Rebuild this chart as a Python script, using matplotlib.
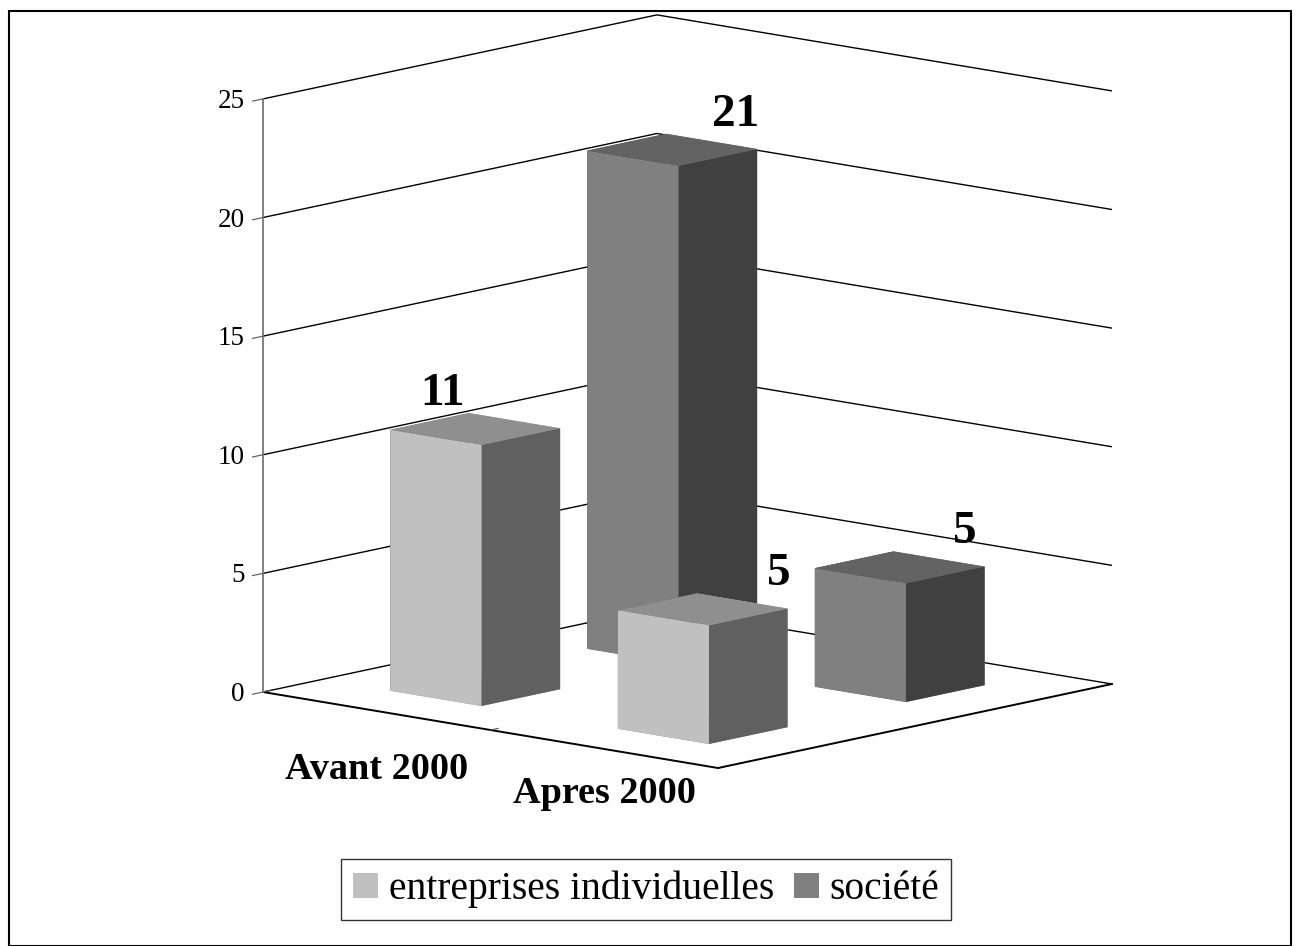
import matplotlib
matplotlib.use("Agg")
import numpy as np
import matplotlib.pyplot as plt
from matplotlib.patches import Patch, Rectangle
from matplotlib.transforms import offset_copy
from mpl_toolkits.mplot3d import proj3d

plt.rcParams["font.family"] = ["Liberation Serif", "DejaVu Serif"]

# --- data -------------------------------------------------------------
CATEGORIES = ["Avant 2000", "Apres 2000"]
SERIES = ["entreprises individuelles", "société"]
ENTREPRISES = [11, 5]
SOCIETE = [21, 5]
Z_TICKS = [0, 5, 10, 15, 20, 25]

# --- style ------------------------------------------------------------
FRONT = ["#c0c0c0", "#808080"]
SIDE = ["#606060", "#404040"]
TOP = ["#8f8f8f", "#636363"]
BAR_W = 0.4
# pixel nudges for the value labels, per series then category
LABEL_DX = [[-33, 76], [63, 65]]
LABEL_DY = 24
CAT_DY = [-68, -54]

W, H = 1301, 946
fig = plt.figure(figsize=(W / 100, H / 100), dpi=100)
ax = fig.add_axes([0.1, 0.1, 0.8, 0.8], projection="3d", proj_type="ortho")
ax.view_init(elev=10.88, azim=-48.49)
ax.set_box_aspect((607.6, 594.4, 603.9))
ax.set_xlim(0, len(CATEGORIES))
ax.set_ylim(0, len(SERIES))
ax.set_zlim(Z_TICKS[0], Z_TICKS[-1])
for t in (ax.title, ax._left_title, ax._right_title):
    t.set_visible(False)

# walls: no fill, value gridlines only
for axis in (ax.xaxis, ax.yaxis, ax.zaxis):
    axis.set_pane_color((1, 1, 1, 0))
    axis.label.set_visible(False)
    axis.offsetText.set_visible(False)
    axis.set_tick_params(labelbottom=False, labeltop=False)
ax.xaxis._axinfo["grid"]["linewidth"] = 0
ax.yaxis._axinfo["grid"]["linewidth"] = 0
ax.zaxis._axinfo["grid"].update(color="black", linewidth=1.0, linestyle="-")

ax.set_xticks(range(len(CATEGORIES) + 1))
ax.set_yticks([])
ax.set_zticks(Z_TICKS)
ax.zaxis.set_ticks_position("lower")
for axis in (ax.xaxis, ax.zaxis):
    for tick in axis.get_major_ticks():
        tick.label1.set_visible(False)
        tick.label2.set_visible(False)

ax.xaxis._axinfo["tick"].update(inward_factor=0.0, outward_factor=0.24)
ax.zaxis._axinfo["tick"].update(inward_factor=0.33, outward_factor=0.0)
ax.xaxis.set_tick_params(color="#555555")
ax.zaxis.set_tick_params(color="#555555")
ax.xaxis.line.set_color("black")
ax.xaxis.line.set_linewidth(1.4)
ax.yaxis.line.set_color("black")
ax.yaxis.line.set_linewidth(1.4)
ax.zaxis.line.set_color("#808080")
ax.zaxis.line.set_linewidth(1.4)

# --- bars -------------------------------------------------------------
xs, ys, hs, face_colors = [], [], [], []
for j, vals in enumerate([ENTREPRISES, SOCIETE]):
    for i, v in enumerate(vals):
        xs.append(i + 0.5 - BAR_W / 2)
        ys.append(j + 0.5 - BAR_W / 2)
        hs.append(v)
        # face order in bar3d: -z, +z, -y, +y, -x, +x
        face_colors += [TOP[j], TOP[j], FRONT[j], FRONT[j], SIDE[j], SIDE[j]]
ax.bar3d(xs, ys, np.zeros(len(hs)), BAR_W, BAR_W, hs,
         color=face_colors, shade=False, linewidth=0)

# --- labels -----------------------------------------------------------
def shifted(dx, dy):
    return offset_copy(ax.transData, fig=fig, x=dx, y=dy, units="dots")

for j, vals in enumerate([ENTREPRISES, SOCIETE]):
    for i, v in enumerate(vals):
        ax.text(i + 0.5, j + 0.5, v, str(v), ha="center", va="baseline",
                fontsize=34, fontweight="bold", zorder=100,
                transform=shifted(LABEL_DX[j][i], LABEL_DY))

for v in Z_TICKS:
    ax.text(0, 0, v, str(v), ha="right", va="baseline", fontsize=19.5,
            zorder=100, transform=shifted(-18, -9))

for i, name in enumerate(CATEGORIES):
    ax.text(i + 0.5, 0, 0, name, ha="center", va="baseline", fontsize=27.5,
            fontweight="bold", zorder=100, transform=shifted(0, CAT_DY[i]))

handles = [Patch(facecolor=FRONT[j], edgecolor="none") for j in range(len(SERIES))]
leg = fig.legend(handles, SERIES, loc="center", ncol=2,
                 bbox_to_anchor=(646 / W, 1 - 889.5 / H), fontsize=28.5,
                 frameon=True, fancybox=False, edgecolor="black",
                 handlelength=0.63, handleheight=0.6, handletextpad=0.28,
                 columnspacing=0.5, borderpad=0.3)
leg.get_frame().set_linewidth(1.0)

fig.patches.append(Rectangle((9 / W, 0), (1291 - 9) / W, 1 - 11 / H,
                             transform=fig.transFigure, fill=False,
                             edgecolor="black", linewidth=1.5))


# --- place the 3D box so its floor corners land where wanted ----------
def fit_axes(anchors, targets, passes=3):
    for _ in range(passes):
        fig.canvas.draw()
        M = ax.get_proj()
        pts = []
        for x, y, z in anchors:
            px, py, _ = proj3d.proj_transform(x, y, z, M)
            pts.append(ax.transData.transform((px, py)))
        p0, p1 = np.array(pts)
        t0, t1 = [np.array((tx, H - ty)) for tx, ty in targets]
        s = np.linalg.norm(t1 - t0) / np.linalg.norm(p1 - p0)
        bb = ax.get_position()
        c = np.array(((bb.x0 + bb.x1) / 2 * W, (bb.y0 + bb.y1) / 2 * H))
        side = bb.width * W * s
        nc = t0 - s * (p0 - c)
        ax.set_position([(nc[0] - side / 2) / W, (nc[1] - side / 2) / H,
                         side / W, side / H])


fit_axes([(0, 0, 0), (2, 2, 0)], [(263, 692), (1112, 684)])

fig.savefig("out.png", dpi=100)
